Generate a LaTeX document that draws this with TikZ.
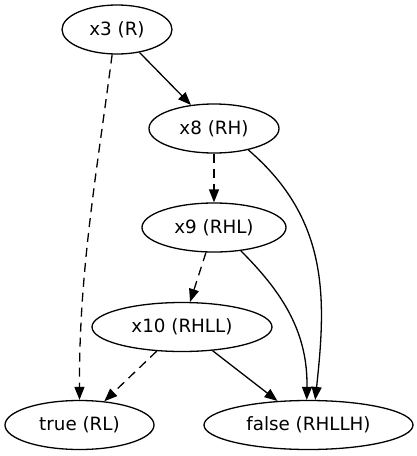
\documentclass[tikz,border=0pt]{standalone}
\usepackage{fontspec}
\setmainfont{DejaVu Sans}
\usetikzlibrary{shapes.geometric,arrows.meta}
\tikzstyle{bddnode}=[ellipse,draw,line width=1.3pt,minimum height=49pt,inner sep=0pt,font=\fontsize{18.3}{22}\selectfont]
\tikzstyle{hiedge}=[line width=1.3pt,-{Triangle[length=13pt,width=10pt]}]
\tikzstyle{loedge}=[line width=1.3pt,dash pattern=on 9pt off 6pt,-{Triangle[length=13pt,width=10pt]}]

\begin{document}
\begin{tikzpicture}[x=1pt,y=-1pt]
    \useasboundingbox (0,0) rectangle (417,456);
    \node[bddnode,minimum width=110pt] (x3) at (117,29.5) {x3 (R)};
    \node[bddnode,minimum width=130pt] (x8) at (214,128.5) {x8 (RH)};
    \node[bddnode,minimum width=144pt] (x9) at (214,227.5) {x9 (RHL)};
    \node[bddnode,minimum width=180pt] (x10) at (182,327) {x10 (RHLL)};
    \node[bddnode,minimum width=149pt] (t) at (79.5,425) {true (RL)};
    \node[bddnode,minimum width=209pt] (f) at (308.5,425) {false (RHLLH)};

    \foreach \from/\to in {x3/x8,x10/f}
    \draw[hiedge] (\from) -- (\to);
    \foreach \from/\to in {x8/x9,x9/x10,x10/t}
    \draw[loedge] (\from) -- (\to);

    \draw[loedge] (x3.-101) .. controls (96.4,175) and (79,271) .. (t.north);
    \draw[hiedge] (x8.-32) .. controls (330,220) and (326,300) .. (f.75);
    \draw[hiedge] (x9.-41) .. controls (280,290) and (308,330) .. (f.94);
\end{tikzpicture}
\end{document}
